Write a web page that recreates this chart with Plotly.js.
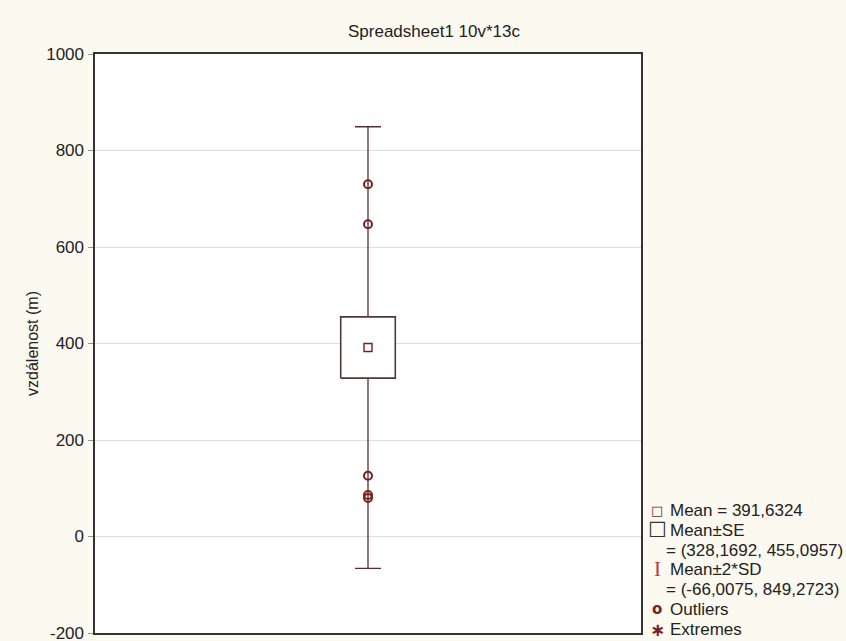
<!DOCTYPE html>
<html>
<head>
<meta charset="utf-8">
<script src="https://cdn.plot.ly/plotly-3.0.1.min.js"></script>
<style>html,body{margin:0;padding:0;background:#fcf9f0;}</style>
</head>
<body>
<div id="chart" style="width:846px;height:641px;"></div>
<script>
// ---- data ----
const category = ["vzdálenost"];
const meanValue = [391.6324];
const seLow = [328.1692];
const seHigh = [455.0957];
const sdLow = [-66.0075];
const sdHigh = [849.2723];
const outlierValues = [730, 647, 126, 86, 80];
const extremeValues = [];
const titleText = "Spreadsheet1 10v*13c";
const yTitle = "vzdálenost (m)";
const yTicks = [-200, 0, 200, 400, 600, 800, 1000];
const yTickText = ["-200", "0", "200", "400", "600", "800", "1000"];

// ---- layout helpers ----
const W = 846, H = 641;
const margin = {l: 95, r: 205, t: 54, b: 8};
const plotW = W - margin.l - margin.r;
const plotH = H - margin.t - margin.b;
const px2x = p => (p - margin.l) / plotW;
const px2y = p => (H - margin.b - p) / plotH;

const fmt = v => v.toFixed(4).replace('.', ',');

const maroon = '#7a1f1f';
const boxLine = '#4e3a3a';
const boxHalf = 0.05;   // half width of the SE box (style)

const traces = [
  { // whiskers: mean ± 2*SD
    type: 'scatter', mode: 'markers',
    x: [0], y: meanValue,
    marker: {size: 1, color: 'rgba(0,0,0,0)'},
    error_y: {type: 'data', symmetric: false,
      array: [sdHigh[0] - meanValue[0]], arrayminus: [meanValue[0] - sdLow[0]],
      color: '#5a2e2e', thickness: 1.3, width: 13},
    hoverinfo: 'skip', showlegend: false
  },
  { // box: mean ± SE (drawn above the whisker line)
    type: 'scatter', mode: 'lines',
    x: [-boxHalf, boxHalf, boxHalf, -boxHalf, -boxHalf],
    y: [seLow[0], seLow[0], seHigh[0], seHigh[0], seLow[0]],
    fill: 'toself', fillcolor: '#ffffff',
    line: {color: boxLine, width: 1.6},
    showlegend: false
  },
  { // mean
    type: 'scatter', mode: 'markers', x: [0], y: meanValue,
    marker: {symbol: 'square-open', size: 8, color: maroon, line: {width: 1.4}},
    showlegend: false
  },
  { // outliers
    type: 'scatter', mode: 'markers',
    x: outlierValues.map(() => 0), y: outlierValues,
    marker: {symbol: 'circle-open', size: 8, color: maroon, line: {width: 2}},
    showlegend: false
  }
];

const legendFont = {family: 'Liberation Sans, Arial, sans-serif', size: 17, color: '#222'};
const legendLines = [
  {sym: '□', symSize: 13, symColor: '#6a2a2a', text: 'Mean = ' + fmt(meanValue[0]), y: 510},
  {sym: '☐', symSize: 21, symColor: '#333', text: 'Mean±SE', y: 530},
  {sym: '', text: '= (' + fmt(seLow[0]) + ', ' + fmt(seHigh[0]) + ')', y: 550, indent: true},
  {sym: 'I', symSize: 21, symFamily: 'Liberation Serif, serif', symColor: '#b83a3a', text: 'Mean±2*SD', y: 569},
  {sym: '', text: '= (' + fmt(sdLow[0]) + ', ' + fmt(sdHigh[0]) + ')', y: 589, indent: true},
  {sym: 'o', symSize: 15, symBold: true, symColor: maroon, text: 'Outliers', y: 609},
  {sym: '∗', symSize: 18, symBold: true, symColor: maroon, text: 'Extremes', y: 629}
];

const annotations = [];
legendLines.forEach(l => {
  annotations.push({
    xref: 'paper', yref: 'paper', x: px2x(l.indent ? 664 : 668), y: px2y(l.y),
    xanchor: 'left', yanchor: 'middle', showarrow: false,
    text: l.text, font: legendFont
  });
  if (l.sym) {
    annotations.push({
      xref: 'paper', yref: 'paper', x: px2x(657), y: px2y(l.y),
      xanchor: 'center', yanchor: 'middle', showarrow: false,
      text: l.symBold ? '<b>' + l.sym + '</b>' : l.sym,
      font: {family: l.symFamily || 'DejaVu Sans, sans-serif', size: l.symSize, color: l.symColor}
    });
  }
});

const layout = {
  width: W, height: H,
  margin: margin,
  paper_bgcolor: '#fcf9f0',
  plot_bgcolor: '#ffffff',
  font: {family: 'Liberation Sans, Arial, sans-serif', size: 14, color: '#222'},
  title: {text: titleText, x: 434 / W, xref: 'container', xanchor: 'center',
    y: 1 - 31 / H, yanchor: 'middle',
    font: {family: 'Liberation Sans, Arial, sans-serif', size: 17, color: '#222'}},
  showlegend: false,
  xaxis: {range: [-0.5, 0.5], showticklabels: false, ticks: '', showgrid: false,
    zeroline: false, showline: true, mirror: true, linecolor: '#333', linewidth: 1.6,
    fixedrange: true},
  yaxis: {range: [-200, 1000], tickvals: yTicks, ticktext: yTickText, ticks: 'outside', ticklen: 5,
    tickcolor: '#999', tickwidth: 1, showgrid: true, gridcolor: '#dcdcdc', gridwidth: 1,
    zeroline: false, showline: true, mirror: true, linecolor: '#333', linewidth: 1.6,
    tickfont: {size: 17, color: '#222'}, ticklabelstandoff: 1, ticklabeloverflow: 'allow',
    title: {text: yTitle, font: {size: 16, color: '#222'}, standoff: 3}},
  annotations: annotations
};

Plotly.newPlot('chart', traces, layout, {displayModeBar: false, staticPlot: true});
</script>
</body>
</html>
